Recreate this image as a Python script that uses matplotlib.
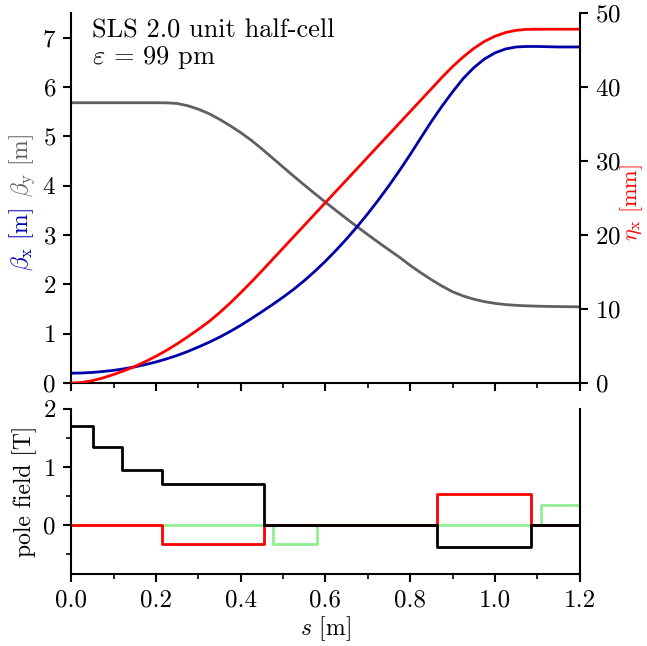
import matplotlib
matplotlib.use("Agg")
import matplotlib.pyplot as plt
from matplotlib.ticker import MultipleLocator, FormatStrFormatter

plt.rcParams['font.family'] = 'serif'
plt.rcParams['font.serif'] = ['cmr10']
plt.rcParams['mathtext.fontset'] = 'cm'
plt.rcParams['axes.formatter.use_mathtext'] = True

# ---- data ----
s = [0.000, 0.025, 0.050, 0.075, 0.100, 0.125, 0.150, 0.175, 0.200, 0.225,
     0.250, 0.275, 0.300, 0.325, 0.350, 0.375, 0.400, 0.425, 0.450, 0.475,
     0.500, 0.525, 0.550, 0.575, 0.600, 0.625, 0.650, 0.675, 0.700, 0.725,
     0.750, 0.775, 0.800, 0.825, 0.850, 0.875, 0.900, 0.925, 0.950, 0.975,
     1.000, 1.025, 1.050, 1.075, 1.100, 1.125, 1.150, 1.175, 1.200]
beta_x = [0.200, 0.204, 0.216, 0.235, 0.258, 0.290, 0.328, 0.375, 0.428, 0.490,
          0.560, 0.640, 0.730, 0.825, 0.930, 1.045, 1.170, 1.305, 1.445, 1.590,
          1.740, 1.900, 2.075, 2.265, 2.470, 2.690, 2.923, 3.171, 3.433, 3.710,
          4.002, 4.309, 4.631, 4.967, 5.300, 5.610, 5.900, 6.170, 6.390, 6.565,
          6.690, 6.770, 6.810, 6.820, 6.820, 6.815, 6.810, 6.810, 6.810]
beta_y = [5.680, 5.680, 5.680, 5.680, 5.680, 5.680, 5.680, 5.680, 5.680, 5.678,
          5.665, 5.620, 5.550, 5.460, 5.345, 5.215, 5.075, 4.920, 4.745, 4.561,
          4.376, 4.193, 4.014, 3.838, 3.665, 3.496, 3.330, 3.167, 3.007, 2.851,
          2.698, 2.548, 2.385, 2.235, 2.095, 1.965, 1.850, 1.765, 1.700, 1.650,
          1.615, 1.590, 1.575, 1.565, 1.558, 1.553, 1.550, 1.547, 1.545]
eta_x = [0.00, 0.08, 0.33, 0.70, 1.15, 1.67, 2.25, 2.90, 3.62, 4.42,
         5.30, 6.25, 7.25, 8.30, 9.50, 10.80, 12.20, 13.65, 15.15, 16.69,
         18.23, 19.77, 21.30, 22.84, 24.38, 25.92, 27.45, 28.99, 30.53, 32.07,
         33.60, 35.14, 36.68, 38.22, 39.75, 41.30, 42.75, 44.05, 45.20, 46.15,
         46.85, 47.35, 47.65, 47.78, 47.80, 47.80, 47.80, 47.80, 47.80]

dip_edges = [0.0, 0.052, 0.12, 0.214, 0.454, 0.864, 1.085, 1.2]
dip_field = [1.70, 1.345, 0.94, 0.70, 0.0, -0.385, 0.0]
quad_edges = [0.0, 0.214, 0.454, 0.864, 1.085, 1.2]
quad_field = [0.0, -0.33, 0.0, 0.53, 0.0]
sext_edges = [0.0, 0.477, 0.58, 1.108, 1.2]
sext_field = [0.0, -0.33, 0.0, 0.35]

blue = '#0000aa'
gray = '#606060'
red = '#ff0000'
green = '#90ee90'

fig = plt.figure(figsize=(6.47, 6.46), dpi=100)
L, R = 0.110, 0.896
ax1 = fig.add_axes([L, 0.407, R - L, 0.980 - 0.407])
ax2 = ax1.twinx()
ax3 = fig.add_axes([L, 0.111, R - L, 0.367 - 0.111])

lw = 2.0
ax1.plot(s, beta_y, color=gray, lw=lw)
ax1.plot(s, beta_x, color=blue, lw=lw)
ax2.plot(s, eta_x, color=red, lw=lw)

ax1.set_xlim(0, 1.2)
ax1.set_ylim(0, 7.5)
ax2.set_ylim(0, 50)
ax1.yaxis.set_major_locator(MultipleLocator(1))
ax2.yaxis.set_major_locator(MultipleLocator(10))
ax1.xaxis.set_major_locator(MultipleLocator(0.2))
ax1.xaxis.set_minor_locator(MultipleLocator(0.1))
ax1.tick_params(axis='x', labelbottom=False)

for a in (ax1, ax2):
    a.spines['top'].set_visible(False)
    for sp in a.spines.values():
        sp.set_linewidth(1.5)
ax1.spines['right'].set_visible(False)
ax2.spines['left'].set_visible(False)
ax2.spines['bottom'].set_visible(False)

ax1.text(0.04, 0.985, 'SLS 2.0 unit half-cell\n$\\varepsilon$ = 99 pm',
         transform=ax1.transAxes, fontsize=19, va='top', ha='left',
         linespacing=1.1)

# bottom panel
def step_xy(edges, vals):
    return edges, list(vals) + [vals[-1]]

x, y = step_xy(sext_edges, sext_field)
ax3.step(x, y, where='post', color=green, lw=lw)
x, y = step_xy(quad_edges, quad_field)
ax3.step(x, y, where='post', color=red, lw=lw)
x, y = step_xy(dip_edges, dip_field)
ax3.step(x, y, where='post', color='black', lw=lw)

ax3.set_xlim(0, 1.2)
ax3.set_ylim(-0.85, 2.0)
ax3.xaxis.set_major_locator(MultipleLocator(0.2))
ax3.xaxis.set_minor_locator(MultipleLocator(0.1))
ax3.yaxis.set_major_locator(MultipleLocator(1))
ax3.yaxis.set_minor_locator(MultipleLocator(0.5))
ax3.xaxis.set_major_formatter(FormatStrFormatter('%.1f'))
ax3.spines['top'].set_visible(False)
for sp in ax3.spines.values():
    sp.set_linewidth(1.5)
ax3.set_xlabel('$s$ [m]', fontsize=17, labelpad=2)
ax3.set_ylabel('pole field [T]', fontsize=17, labelpad=4)

for a in (ax1, ax2, ax3):
    a.tick_params(which='major', direction='out', length=6, width=1.5,
                  labelsize=18, pad=5)
    a.tick_params(which='minor', direction='out', length=3.5, width=1.2)

# axis labels for top panel
fig.text(22 / 647, 1 - 239 / 646, '$\\beta_\\mathrm{x}$ [m]', color=blue,
         rotation=90, fontsize=17, ha='center', va='center')
fig.text(22 / 647, 1 - 165 / 646, '$\\beta_\\mathrm{y}$ [m]', color=gray,
         rotation=90, fontsize=17, ha='center', va='center')
fig.text(632 / 647, 1 - 203 / 646, '$\\eta_\\mathrm{x}$ [mm]', color=red,
         rotation=90, fontsize=16, ha='center', va='center')

fig.savefig('out.png', dpi=100)
